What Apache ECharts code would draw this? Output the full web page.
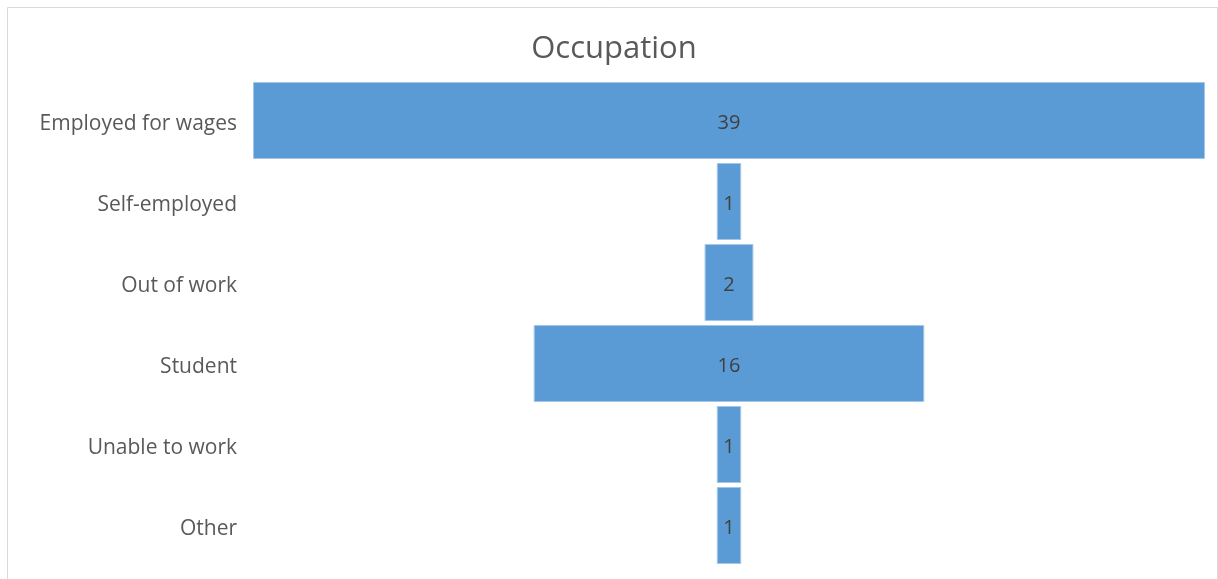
<!DOCTYPE html>
<html>
<head>
<meta charset="utf-8">
<script src="https://cdn.jsdelivr.net/npm/echarts@6/dist/echarts.min.js"></script>
<style>html,body{margin:0;padding:0;background:#fff;}#c{width:1218px;height:579px;}</style>
</head>
<body>
<div id="c"></div>
<script>
const categories = ["Employed for wages", "Self-employed", "Out of work", "Student", "Unable to work", "Other"];
const counts = [39, 1, 2, 16, 1, 1];
const maxCount = 39;
const titleText = 'Occupation';

const offsets = counts.map(v => (maxCount - v) / 2);

const chart = echarts.init(document.getElementById('c'), null, {renderer: 'canvas'});
chart.setOption({
  animation: false,
  backgroundColor: '#ffffff',
  graphic: [{
    type: 'rect', silent: true,
    shape: {x: 7.5, y: 7.5, width: 1210, height: 620},
    style: {fill: 'none', stroke: '#d9d9d9', lineWidth: 1}
  }, {
    type: 'text', silent: true, x: 614, y: 49,
    style: {text: titleText, fontFamily: 'Open Sans', fontSize: 31, fill: '#595959',
      textAlign: 'center', textVerticalAlign: 'middle'}
  }],
  grid: {left: 253, right: 13, top: 80, bottom: 13},
  xAxis: {
    type: 'value', min: 0, max: maxCount, show: false
  },
  yAxis: {
    type: 'category', data: categories, inverse: true,
    axisLine: {show: false}, axisTick: {show: false}, splitLine: {show: false},
    axisLabel: {margin: 16, fontFamily: 'Open Sans', fontSize: 21, color: '#595959',
      verticalAlign: 'top', lineHeight: 8}
  },
  series: [
    {
      type: 'bar', stack: 'f', data: offsets, barWidth: 77,
      itemStyle: {color: 'transparent'}, silent: true
    },
    {
      type: 'bar', stack: 'f', data: counts, barWidth: 77,
      itemStyle: {color: '#5b9bd5', borderColor: '#a6c6e8', borderWidth: 1},
      label: {show: true, position: 'inside', offset: [0, 3], fontFamily: 'Open Sans', fontSize: 20, color: '#404040'}
    }
  ]
});
</script>
</body>
</html>
